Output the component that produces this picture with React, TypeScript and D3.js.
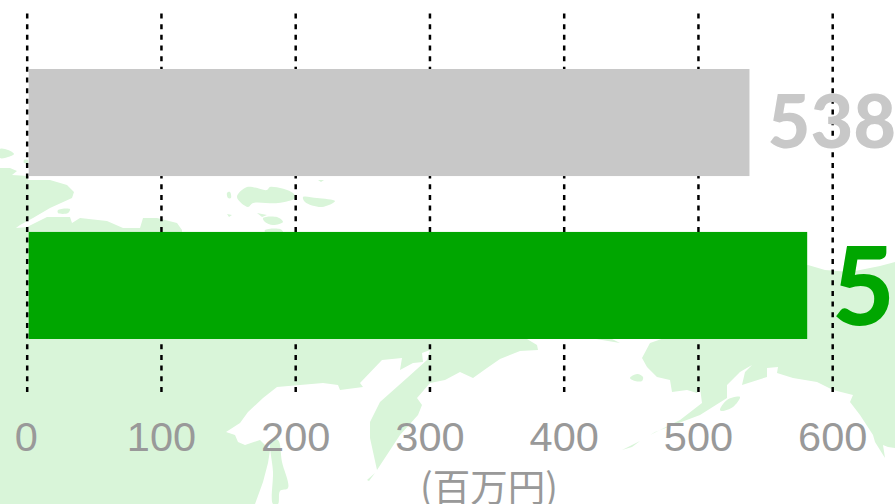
import React from "react";
import * as d3 from "d3";

// ---- data ----
const categories = ["prior", "current"];
const values = [538, 581];
const valueLabels = ["538", "581"];
const barColors = ["#c8c8c8", "#00a600"];
const tickValues = [0, 100, 200, 300, 400, 500, 600];
const unitLabel = "(百万円)";

// ---- faint background map outlines ----
type Pt = [number, number];
const mapAsia: Pt[] = [
  [0,168],[10,168],[17,171],[12,175],[28,176],[28,180],[50,180],[67,185],[74,192],[72,198],[50,208],[33,218],[20,225],[16,228],
  [27,227],[47,217],[70,217],[72,223],[80,218],[107,221],[123,228],[140,228],[143,218],[157,218],[177,223],[182,230],[182,240],
  [527,339],[537,345],[538,350],[520,351],[500,359],[487,368],[473,378],[460,372],[445,380],[430,383],[417,398],[422,405],[418,415],
  [400,435],[377,470],[370,438],[370,422],[380,402],[407,378],[427,360],[430,350],[422,353],[423,362],[413,363],[400,370],[402,358],
  [382,360],[360,383],[363,387],[340,390],[338,385],[323,383],[277,387],[263,398],[248,412],[240,423],[226,432],[235,435],[238,442],
  [245,445],[260,440],[270,450],[268,463],[263,482],[255,504],[0,504],
];
const mapAlaska: Pt[] = [
  [650,320],[808,265],[825,270],[850,272],[880,266],[895,262],[895,448],[888,447],[883,445],[885,458],[875,442],[873,435],[860,415],
  [850,402],[853,395],[833,390],[817,382],[793,378],[777,373],[778,367],[767,368],[767,377],[742,385],[745,372],[752,365],[740,372],
  [727,385],[727,398],[700,415],[655,432],[650,435],[680,420],[702,403],[700,388],[697,393],[687,390],[672,392],[670,380],[657,377],
  [647,367],[642,358],[650,343],[673,335],
];
const mapIslands: Pt[][] = [
  [[0,149],[8,150],[14,154],[8,157],[0,158]],
  [[24,160],[28,160],[28,163],[24,163]],
  [[58,210],[70,209],[68,213],[58,213]],
  [[237,197],[247,187],[267,190],[270,187],[293,193],[295,198],[278,203],[253,203],[248,207]],
  [[303,197],[317,198],[335,201],[322,207],[305,202]],
  [[263,218],[277,217],[283,222],[273,225],[265,222]],
  [[227,193],[230,192],[231,198],[228,198]],
  [[257,213],[267,215],[262,217]],
  [[227,214],[232,215],[229,217]],
  [[265,230],[280,229],[283,232],[265,232]],
  [[318,180],[324,180],[321,182]],
  [[271,440],[278,440],[282,462],[288,488],[280,491],[278,504],[273,504],[273,472]],
  [[596,339],[612,339],[620,343]],
  [[720,410],[727,400],[740,397],[733,407],[722,411]],
  [[630,378],[637,374],[643,377],[642,381],[635,381]],
  [[622,450],[640,441],[632,447]],
  [[367,480],[375,473],[369,481]],
];

const W = 895;
const H = 504;
const x = d3.scaleLinear().domain([0, 600]).range([27.2, 832.7]);
const y = d3.scaleBand().domain(categories).range([69, 339]).paddingInner(56 / 163.3).paddingOuter(0);
const line = d3.line<Pt>().curve(d3.curveCatmullRomClosed.alpha(0.5));
const poly = d3.line<Pt>();
const landFill = "#d9f5d9";

export default function App() {
  const bw = y.bandwidth();
  return (
    <svg
      width={W}
      height={H}
      viewBox={`0 0 ${W} ${H}`}
      style={{ position: "fixed", left: 0, top: 0, display: "block", background: "#fff", overflow: "hidden" }}
    >
      <g fill={landFill}>
        <path d={poly(mapAsia) + "Z"} />
        <path d={poly(mapAlaska) + "Z"} />
        {mapIslands.map((p, i) => (
          <path key={i} d={(p.length > 3 ? line(p) : poly(p) + "Z") ?? ""} />
        ))}
      </g>
      <g stroke="#000" strokeWidth={2.5} strokeDasharray="5 5.67">
        {tickValues.map((t) => (
          <line key={t} x1={x(t)} x2={x(t)} y1={13.5} y2={392} />
        ))}
      </g>
      {categories.map((c, i) => (
        <rect key={c} x={x(0) + 1.5} y={y(c)} width={x(values[i]) - x(0) - 1.5} height={bw} fill={barColors[i]} />
      ))}
      <text x={767.5} y={148} fontFamily="Lato" fontWeight={900} fontSize={74} fill={barColors[0]}>
        {valueLabels[0]}
      </text>
      <text x={832} y={325} fontFamily="Lato" fontWeight={900} fontSize={108} fill={barColors[1]}>
        {valueLabels[1]}
      </text>
      <g fontFamily="'Liberation Sans'" fontSize={41.5} fill="#999" textAnchor="middle">
        {tickValues.map((t) => (
          <text key={t} x={x(t) - (t === 0 ? 1 : 0)} y={451}>
            {t}
          </text>
        ))}
      </g>
      <text x={489} y={501} fontFamily="'Noto Sans CJK JP'" fontSize={37.5} fill="#999" textAnchor="middle">
        {unitLabel}
      </text>
    </svg>
  );
}
